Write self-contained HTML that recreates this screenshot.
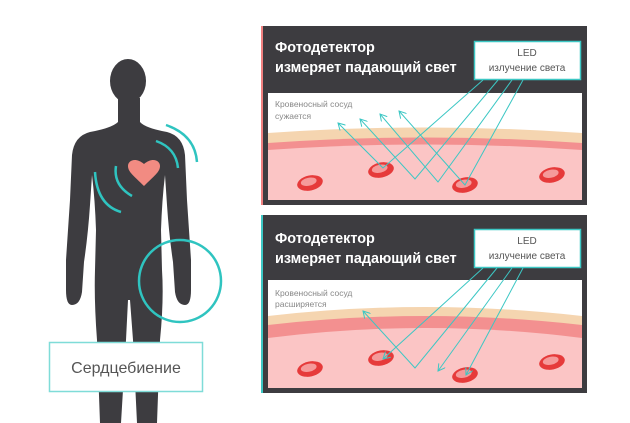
<!DOCTYPE html>
<html><head><meta charset="utf-8"><style>
html,body{margin:0;padding:0;background:#fff;}
svg{display:block;font-family:"Liberation Sans","Noto Sans CJK JP",sans-serif;}
</style></head><body>
<svg width="630" height="423" viewBox="0 0 630 423" xmlns="http://www.w3.org/2000/svg">
<defs>
<marker id="ah" markerWidth="8" markerHeight="8" refX="7" refY="4" orient="auto" markerUnits="userSpaceOnUse">
<path d="M0,0 L7,4 L0,8" fill="none" stroke="#3cc7c4" stroke-width="1"/>
</marker>
<g id="cell"><ellipse rx="13" ry="7.5" fill="#e63a3a"/><ellipse cx="-1" cy="-1.5" rx="8" ry="4" fill="#f59a9a"/></g>
</defs>
<!-- human -->
<ellipse cx="128" cy="81" rx="18" ry="22" fill="#3d3c40"/>
<path d="M118,98 L118,122 Q112,128 90,132 Q74,136 72,155 L70,200 Q68,230 66,260 L66,290 Q66,305 72,305 Q80,305 82,292 L84,262 Q88,235 90,205 L92,175 Q95,200 96,230 L95,270 Q94,300 97,340 L100,423 L121,423 L126,340 L128,300 L130,300 L133,340 L137,423 L157,423 L160,340 Q164,300 162,270 L161,230 Q162,200 165,175 L167,205 Q169,235 173,262 L175,292 Q177,305 185,305 Q191,305 191,290 L191,260 Q189,230 187,200 L185,155 Q183,136 167,132 Q145,128 140,122 L140,98 Z" fill="#3d3c40"/>
<path d="M144,186 C134,176 128,172 128,166 C128,160 136,157 144,164 C152,157 160,160 160,166 C160,172 154,176 144,186 Z" fill="#f28b82"/>
<g fill="none" stroke="#2fc4c0" stroke-width="2.5">
<path d="M156,141 Q176,148 178,168"/>
<path d="M166,125 Q195,135 197,162"/>
<path d="M116,166 Q113,185 132,196"/>
<path d="M95,172 Q97,205 121,212"/>
<circle cx="180" cy="281" r="41"/>
</g>
<rect x="49.5" y="342.5" width="153" height="49" fill="#fff" stroke="#7fdcd8" stroke-width="1.5"/>
<text x="126" y="373" font-size="16" fill="#555" text-anchor="middle">Сердцебиение</text>

<!-- panel 1 -->
<rect x="261" y="26" width="326" height="179" fill="#3d3c40"/>
<rect x="261" y="26" width="2" height="179" fill="#f08080"/>
<rect x="268" y="93" width="314" height="107" fill="#fff"/>
<path d="M268,133 Q425,122 582,133 L582,200 L268,200 Z" fill="#f5d5b0"/>
<path d="M268,143 Q425,132 582,143 L582,200 L268,200 Z" fill="#f39090"/>
<path d="M268,150 Q425,139 582,150 L582,200 L268,200 Z" fill="#fbc5c5"/>
<text x="275" y="52" font-size="14.4" font-weight="bold" fill="#fff">Фотодетектор</text>
<text x="275" y="72" font-size="14.4" font-weight="bold" fill="#fff">измеряет падающий свет</text>
<rect x="474.5" y="41.5" width="106" height="38" fill="#fff" stroke="#3cc7c4" stroke-width="1.5"/>
<text x="527" y="56" font-size="10" fill="#555" text-anchor="middle">LED</text>
<text x="527" y="71" font-size="10" fill="#555" text-anchor="middle">излучение света</text>
<text x="275" y="107" font-size="8.5" fill="#888">Кровеносный сосуд</text>
<text x="275" y="119" font-size="8.5" fill="#888">сужается</text>
<use href="#cell" x="310" y="183" transform="rotate(-12 310 183)"/>
<use href="#cell" x="381" y="170" transform="rotate(-12 381 170)"/>
<use href="#cell" x="465" y="185" transform="rotate(-12 465 185)"/>
<use href="#cell" x="552" y="175" transform="rotate(-12 552 175)"/>
<g fill="none" stroke="#3cc7c4" stroke-width="1">
<polyline points="483,80 383,168 338,123" marker-end="url(#ah)"/>
<polyline points="498,80 415,179 360,119" marker-end="url(#ah)"/>
<polyline points="512,80 438,182 380,114" marker-end="url(#ah)"/>
<polyline points="523,80 465,185 399,111" marker-end="url(#ah)"/>
</g>

<!-- panel 2 -->
<rect x="261" y="215" width="326" height="178" fill="#3d3c40"/>
<rect x="261" y="215" width="2" height="178" fill="#3cc7c4"/>
<rect x="268" y="280" width="314" height="108" fill="#fff"/>
<path d="M268,316 Q425,298 582,316 L582,388 L268,388 Z" fill="#f5d5b0"/>
<path d="M268,325 Q425,307 582,325 L582,388 L268,388 Z" fill="#f39090"/>
<path d="M268,338 Q425,318 582,338 L582,388 L268,388 Z" fill="#fbc5c5"/>
<text x="275" y="243" font-size="14.4" font-weight="bold" fill="#fff">Фотодетектор</text>
<text x="275" y="263" font-size="14.4" font-weight="bold" fill="#fff">измеряет падающий свет</text>
<rect x="474.5" y="229.5" width="106" height="38" fill="#fff" stroke="#3cc7c4" stroke-width="1.5"/>
<text x="527" y="244" font-size="10" fill="#555" text-anchor="middle">LED</text>
<text x="527" y="259" font-size="10" fill="#555" text-anchor="middle">излучение света</text>
<text x="275" y="296" font-size="8.5" fill="#888">Кровеносный сосуд</text>
<text x="275" y="307" font-size="8.5" fill="#888">расширяется</text>
<use href="#cell" x="310" y="369" transform="rotate(-12 310 369)"/>
<use href="#cell" x="381" y="358" transform="rotate(-12 381 358)"/>
<use href="#cell" x="465" y="375" transform="rotate(-12 465 375)"/>
<use href="#cell" x="552" y="362" transform="rotate(-12 552 362)"/>
<g fill="none" stroke="#3cc7c4" stroke-width="1">
<polyline points="483,268 383,359" marker-end="url(#ah)"/>
<polyline points="497,268 415,368 363,311" marker-end="url(#ah)"/>
<polyline points="512,268 438,371" marker-end="url(#ah)"/>
<polyline points="523,268 466,375" marker-end="url(#ah)"/>
</g>
</svg>
</body></html>
